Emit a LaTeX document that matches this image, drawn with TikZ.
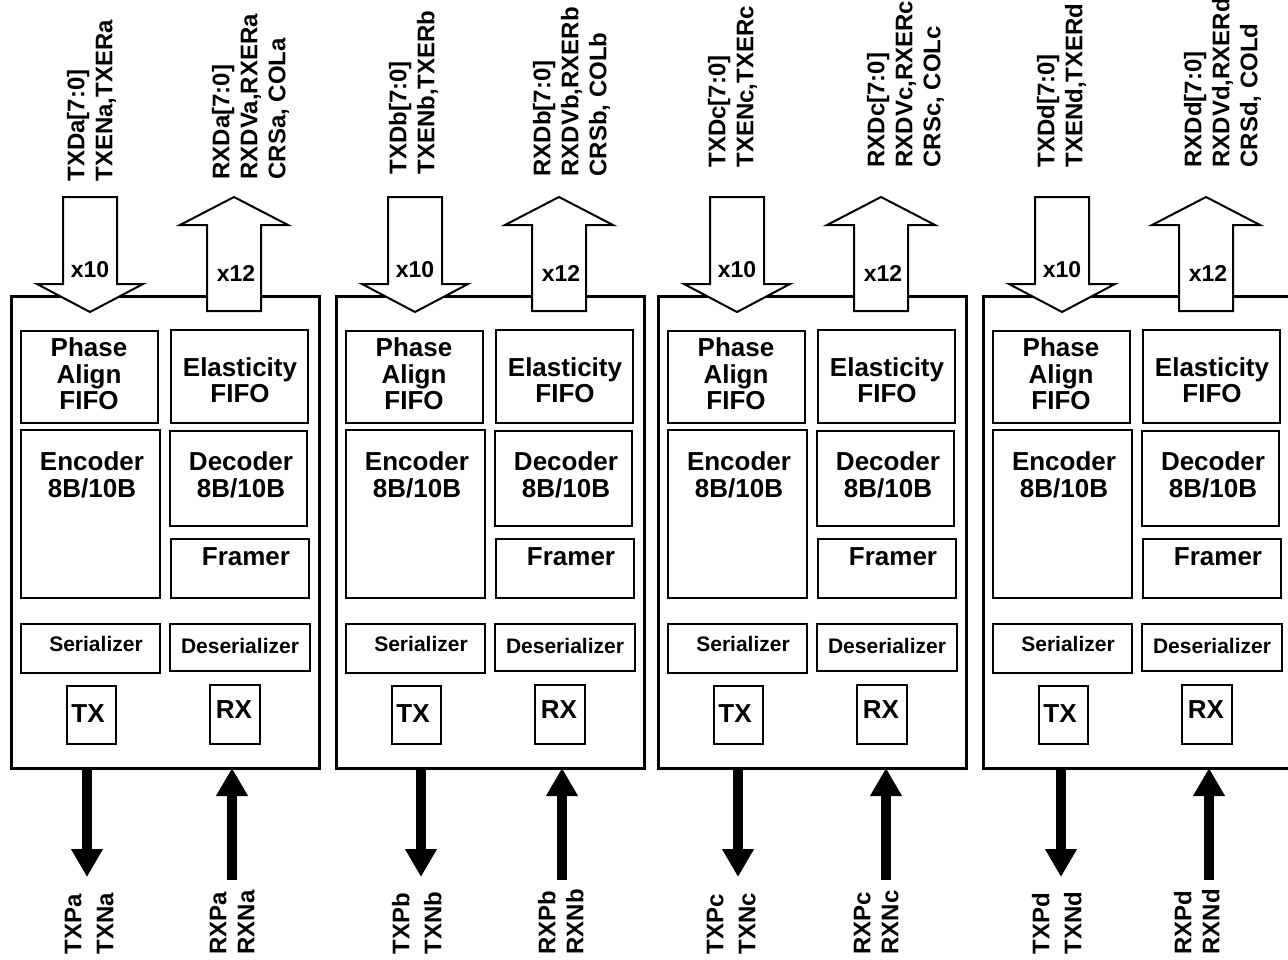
\documentclass[tikz,border=0pt]{standalone}
\usepackage{fontspec}
\setmainfont{Liberation Sans}
\usetikzlibrary{arrows.meta}
\tikzset{
  outerbox/.style={draw, line width=1.5pt, inner sep=0pt, anchor=north west},
  blk/.style={draw, line width=1pt, inner sep=0pt, anchor=north west},
  btxt/.style={font=\fontsize{13}{13.3}\selectfont\bfseries, align=center, inner sep=0pt},
  stxt/.style={font=\fontsize{10.5}{12}\selectfont\bfseries, inner sep=0pt},
  trx/.style={font=\fontsize{13}{14}\selectfont\bfseries, inner sep=0pt},
  xlab/.style={font=\fontsize{11.5}{12}\selectfont\bfseries, inner sep=0pt},
  toplab/.style={font=\fontsize{12}{14}\selectfont\bfseries, align=left, rotate=90, anchor=north west, inner sep=0pt},
  txbot/.style={font=\fontsize{12}{16}\selectfont\bfseries, align=left, rotate=90, anchor=north west, inner sep=0pt},
  rxbot/.style={font=\fontsize{12}{14}\selectfont\bfseries, align=left, rotate=90, anchor=north west, inner sep=0pt},
  widearrow/.style={draw, line width=1pt, fill=white, line join=miter},
  sig/.style={line width=5pt, -{Triangle[length=14pt,width=15pt]}},
}
\begin{document}
\begin{tikzpicture}[x=0.5pt,y=-0.5pt]
\useasboundingbox (0,0) rectangle (1288,959);
\clip (0,0) rectangle (1288,959);
\foreach \o/\l/\ttx/\trx/\tty/\try/\btx/\brx/\atx/\arx in {
  0/a/66.5/211.5/182/180/64.5/209.5/87/232,
  325/b/63.5/207.5/175/177/66.5/212.5/96/237,
  647/c/60.5/219.5/168/168/59.5/206.5/91/239,
  972/d/64.5/211.5/168/168/59.5/201.5/89/237}{
\begin{scope}[shift={(\o,0)}]
  % outer lane box
  \node[outerbox, minimum width=154pt, minimum height=236pt] (box\l) at (10,295) {};
  % inner blocks
  \node[blk, minimum width=68.5pt, minimum height=46pt] (pa\l) at (20,330) {};
  \node[blk, minimum width=68.5pt, minimum height=46.5pt] (ef\l) at (170,329) {};
  \node[blk, minimum width=69.5pt, minimum height=84pt] (enc\l) at (20,429) {};
  \node[blk, minimum width=68.5pt, minimum height=47.5pt] (dec\l) at (169,430) {};
  \node[blk, minimum width=69pt, minimum height=29.5pt] (fr\l) at (170,538) {};
  \node[blk, minimum width=69.5pt, minimum height=24.5pt] (ser\l) at (20,623) {};
  \node[blk, minimum width=70pt, minimum height=23.5pt] (des\l) at (169,623) {};
  \node[blk, minimum width=24.5pt, minimum height=29pt] (txb\l) at (66,685) {};
  \node[blk, minimum width=25pt, minimum height=29.5pt] (rxb\l) at (209,684) {};
  % block texts
  \node[btxt] (pat\l) at (89,374) {Phase\\Align\\FIFO};
  \node[btxt] (eft\l) at (240,380) {Elasticity\\FIFO};
  \node[btxt] (enct\l) at (92,475) {Encoder\\8B/10B};
  \node[btxt] (dect\l) at (241,475) {Decoder\\8B/10B};
  \node[btxt] (frt\l) at (246,557) {Framer};
  \node[stxt] (sert\l) at (96,644) {Serializer};
  \node[stxt] (dest\l) at (240,646) {Deserializer};
  \node[trx] (txt\l) at (88,714) {TX};
  \node[trx] (rxt\l) at (234,710) {RX};
  % wide parallel-bus arrows
  \draw[widearrow] (63,197) -- (117,197) -- (117,284) -- (143,284) -- (90,312)
     -- (37,284) -- (63,284) -- cycle;
  \draw[widearrow] (207,311) -- (207,225) -- (180,225) -- (234,197) -- (288,225)
     -- (261,225) -- (261,311) -- cycle;
  \node[xlab] (x10\l) at (90,270) {x10};
  \node[xlab] (x12\l) at (236,273) {x12};
  % top signal labels
  \node[toplab] (tdl\l) at (\ttx,\tty) {TXD\l[7:0]\\TXEN\l,TXER\l};
  \node[toplab] (rdl\l) at (\trx,\try) {RXD\l[7:0]\\RXDV\l,RXER\l\\CRS\l, COL\l};
  % serial lines
  \coordinate (txs\l) at (\atx,767);
  \coordinate (txe\l) at (\atx,877);
  \coordinate (rxs\l) at (\arx,880);
  \coordinate (rxe\l) at (\arx,768);
  \draw[sig] (txs\l) -- (txe\l);
  \draw[sig] (rxs\l) -- (rxe\l);
  % bottom labels
  \node[txbot] (tpl\l) at (\btx,955) {TXP\l\\TXN\l};
  \node[rxbot] (rpl\l) at (\brx,955) {RXP\l\\RXN\l};
\end{scope}
}
\end{tikzpicture}
\end{document}
